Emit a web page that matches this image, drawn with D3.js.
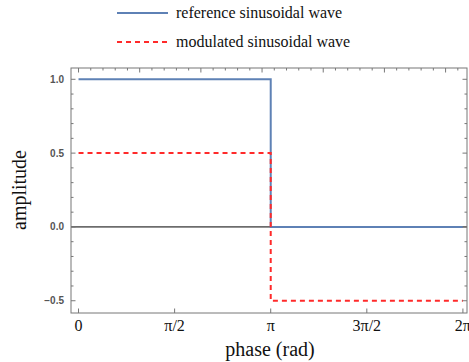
<!DOCTYPE html>
<html>
<head>
<meta charset="utf-8">
<script src="https://cdn.jsdelivr.net/npm/d3@7"></script>
<style>
  body { margin: 0; background: #fff; }
  svg { display: block; }
</style>
</head>
<body>
<svg id="chart" width="469" height="362"></svg>
<script>
// data
const phase = [0, Math.PI, Math.PI, 2 * Math.PI];
const reference = [1, 1, 0, 0];
const modulated = [0.5, 0.5, -0.5, -0.5];
const seriesNames = ["reference sinusoidal wave", "modulated sinusoidal wave"];
const xTickValues = [0, Math.PI / 2, Math.PI, 3 * Math.PI / 2, 2 * Math.PI];
const xTickLabels = ["0", "\u03c0/2", "\u03c0", "3\u03c0/2", "2\u03c0"];
const yTickValues = [-0.5, 0, 0.5, 1.0];

const svg = d3.select("#chart");
const frameL = 71, frameR = 467, frameT = 68, frameB = 313;

const x = d3.scaleLinear().domain([-0.123, 6.35]).range([frameL, frameR]);
const y = d3.scaleLinear().domain([-0.583, 1.0765]).range([frameB, frameT]);

const frameColor = "#777";

// zero axis line
svg.append("line")
    .attr("x1", frameL).attr("x2", frameR)
    .attr("y1", y(0)).attr("y2", y(0))
    .attr("stroke", "#000").attr("stroke-width", 1);

// series
const line = d3.line().x((d, i) => x(phase[i])).y(d => y(d));

svg.append("path")
    .datum(reference)
    .attr("d", line)
    .attr("fill", "none")
    .attr("stroke", "#5e81b5")
    .attr("stroke-width", 2);

svg.append("path")
    .datum(modulated)
    .attr("d", line)
    .attr("fill", "none")
    .attr("stroke", "#ff2a2a")
    .attr("stroke-width", 2)
    .attr("stroke-dasharray", "5,4");

// frame
svg.append("rect")
    .attr("x", frameL).attr("y", frameT)
    .attr("width", frameR - frameL).attr("height", frameB - frameT)
    .attr("fill", "none").attr("stroke", frameColor).attr("stroke-width", 1);

// y ticks, left and right (minor every 0.1)
const yMinor = d3.range(-5, 11).map(v => v / 10);
const yt = svg.append("g").attr("stroke", frameColor).attr("stroke-width", 1);
yMinor.forEach(v => {
    const major = Math.abs(v * 2 - Math.round(v * 2)) < 1e-6;
    const len = major ? 4.5 : 2.5;
    yt.append("line").attr("x1", frameL).attr("x2", frameL + len).attr("y1", y(v)).attr("y2", y(v));
    yt.append("line").attr("x1", frameR).attr("x2", frameR - len).attr("y1", y(v)).attr("y2", y(v));
});

svg.append("g")
    .selectAll("text")
    .data(yTickValues)
    .join("text")
    .attr("x", 64)
    .attr("y", d => y(d))
    .attr("dy", "0.35em")
    .attr("text-anchor", "end")
    .style("font", "bold 10px 'Liberation Sans', Arial, sans-serif")
    .style("fill", "#555")
    .text(d => d < 0 ? "\u2212" + Math.abs(d).toFixed(1) : d.toFixed(1));

// bottom ticks
const xt = svg.append("g").attr("stroke", frameColor).attr("stroke-width", 1);
xTickValues.forEach(v => {
    xt.append("line").attr("x1", x(v)).attr("x2", x(v)).attr("y1", frameB).attr("y2", frameB - 4.5);
});

svg.append("g")
    .selectAll("text")
    .data(xTickValues)
    .join("text")
    .attr("x", d => x(d))
    .attr("y", 331)
    .attr("text-anchor", "middle")
    .style("font", "16px 'Liberation Serif', 'Times New Roman', serif")
    .style("fill", "#111")
    .text((d, i) => xTickLabels[i]);

// top ticks (radians, minor every 0.2)
const topTicks = d3.range(0, 32).map(v => v / 5);
topTicks.forEach(v => {
    const major = Math.abs(v - Math.round(v)) < 1e-6;
    xt.append("line").attr("x1", x(v)).attr("x2", x(v)).attr("y1", frameT).attr("y2", frameT + (major ? 4.5 : 2.5));
});

// axis labels
svg.append("text")
    .attr("x", 270).attr("y", 356)
    .attr("text-anchor", "middle")
    .style("font", "20px 'Liberation Serif', 'Times New Roman', serif")
    .style("fill", "#111")
    .text("phase (rad)");

svg.append("text")
    .attr("transform", "translate(26,190) rotate(-90)")
    .attr("text-anchor", "middle")
    .style("font", "20px 'Liberation Serif', 'Times New Roman', serif")
    .style("fill", "#111")
    .text("amplitude");

// legend
const legend = svg.append("g");
const legendY = [13, 42];
legend.append("line").attr("x1", 117).attr("x2", 168).attr("y1", legendY[0]).attr("y2", legendY[0])
    .attr("stroke", "#5e81b5").attr("stroke-width", 2);
legend.append("line").attr("x1", 117).attr("x2", 168).attr("y1", legendY[1]).attr("y2", legendY[1])
    .attr("stroke", "#ff2a2a").attr("stroke-width", 2).attr("stroke-dasharray", "5,4");
legend.selectAll("text")
    .data(seriesNames)
    .join("text")
    .attr("x", 176)
    .attr("y", (d, i) => legendY[i] + 5)
    .style("font", "16px 'Liberation Serif', 'Times New Roman', serif")
    .style("fill", "#111")
    .text(d => d);
</script>
</body>
</html>
